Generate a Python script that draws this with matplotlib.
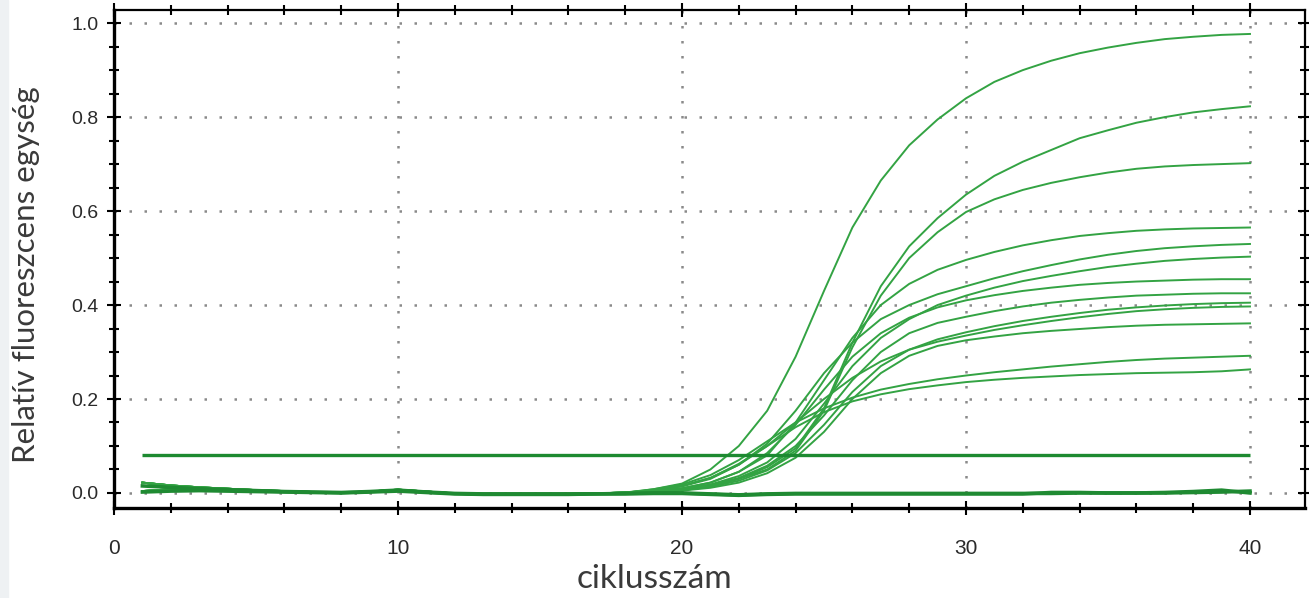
"""qPCR amplification plot: relative fluorescence vs. cycle number."""
import matplotlib
matplotlib.use("Agg")
import matplotlib.pyplot as plt
from matplotlib.patches import Rectangle
from matplotlib.ticker import MultipleLocator

cycles = list(range(1, 41))

# baseline noise for cycles 1..18 (two variants, shared by the samples)
early_hi = [0.022, 0.016, 0.012, 0.009, 0.006, 0.004, 0.002, 0.001, 0.003,
            0.007, 0.003, -0.001, -0.002, -0.002, -0.002, -0.002, -0.001, 0.001]
early_lo = [0.004, 0.008, 0.010, 0.008, 0.005, 0.003, 0.001, 0.000, 0.002,
            0.005, 0.002, -0.002, -0.003, -0.003, -0.003, -0.003, -0.002, 0.000]

# amplification part, cycles 19..40
late = {
    "A": [0.008, 0.02, 0.05, 0.10, 0.175, 0.29, 0.43, 0.565, 0.665, 0.74, 0.795,
          0.84, 0.875, 0.90, 0.92, 0.936, 0.948, 0.958, 0.966, 0.971, 0.975, 0.977],
    "B": [0.002, 0.006, 0.014, 0.03, 0.055, 0.095, 0.18, 0.32, 0.44, 0.525, 0.585,
          0.635, 0.675, 0.705, 0.73, 0.755, 0.772, 0.788, 0.80, 0.81, 0.817, 0.823],
    "C": [0.002, 0.006, 0.014, 0.03, 0.05, 0.09, 0.175, 0.31, 0.42, 0.50, 0.555,
          0.598, 0.625, 0.645, 0.66, 0.672, 0.682, 0.69, 0.695, 0.698, 0.70, 0.702],
    "D": [0.004, 0.01, 0.022, 0.045, 0.08, 0.15, 0.24, 0.33, 0.40, 0.445, 0.475,
          0.496, 0.513, 0.527, 0.538, 0.547, 0.553, 0.558, 0.561, 0.563, 0.564, 0.565],
    "E": [0.006, 0.014, 0.03, 0.06, 0.105, 0.175, 0.255, 0.32, 0.37, 0.40, 0.423,
          0.44, 0.457, 0.472, 0.485, 0.497, 0.507, 0.515, 0.521, 0.525, 0.528, 0.53],
    "F": [0.003, 0.008, 0.018, 0.036, 0.065, 0.115, 0.19, 0.27, 0.33, 0.37, 0.40,
          0.42, 0.437, 0.451, 0.462, 0.472, 0.481, 0.488, 0.494, 0.498, 0.501, 0.503],
    "G": [0.004, 0.01, 0.022, 0.045, 0.085, 0.145, 0.22, 0.29, 0.34, 0.373, 0.395,
          0.41, 0.421, 0.43, 0.437, 0.443, 0.447, 0.45, 0.452, 0.454, 0.455, 0.455],
    "H": [0.003, 0.008, 0.017, 0.032, 0.058, 0.10, 0.165, 0.24, 0.30, 0.34, 0.362,
          0.375, 0.387, 0.397, 0.405, 0.411, 0.416, 0.42, 0.422, 0.424, 0.425, 0.425],
    "I": [0.002, 0.006, 0.013, 0.026, 0.048, 0.085, 0.145, 0.215, 0.27, 0.305, 0.327,
          0.342, 0.355, 0.366, 0.375, 0.383, 0.39, 0.395, 0.399, 0.402, 0.404, 0.405],
    "J": [0.006, 0.015, 0.032, 0.06, 0.10, 0.15, 0.20, 0.245, 0.28, 0.305, 0.322,
          0.335, 0.347, 0.357, 0.366, 0.374, 0.381, 0.387, 0.391, 0.394, 0.396, 0.397],
    "K": [0.002, 0.005, 0.011, 0.022, 0.042, 0.075, 0.13, 0.20, 0.255, 0.292, 0.313,
          0.325, 0.333, 0.34, 0.345, 0.349, 0.353, 0.356, 0.358, 0.359, 0.36, 0.361],
    "L": [0.008, 0.018, 0.038, 0.07, 0.11, 0.15, 0.18, 0.203, 0.22, 0.232, 0.242,
          0.25, 0.257, 0.263, 0.269, 0.274, 0.279, 0.283, 0.286, 0.288, 0.29, 0.292],
    "M": [0.006, 0.015, 0.032, 0.062, 0.10, 0.14, 0.172, 0.195, 0.21, 0.221, 0.229,
          0.236, 0.241, 0.245, 0.248, 0.251, 0.253, 0.255, 0.256, 0.257, 0.259, 0.263],
}
early_of = {"A": early_hi, "B": early_lo, "C": early_hi, "D": early_lo,
            "E": early_hi, "F": early_lo, "G": early_hi, "H": early_lo,
            "I": early_hi, "J": early_lo, "K": early_hi, "L": early_lo, "M": early_hi}

# negative controls, cycles 1..40
neg_1 = [0.015, 0.012, 0.009, 0.007, 0.005, 0.003, 0.002, 0.001, 0.003, 0.006,
         0.002, -0.001, -0.002, -0.002, -0.002, -0.002, -0.002, -0.001, 0.000, 0.000,
         -0.002, -0.004, -0.002, -0.001, -0.001, -0.001, -0.001, -0.001, -0.001, -0.001,
         -0.001, -0.001, -0.001, 0.000, 0.000, 0.000, 0.000, 0.001, 0.002, 0.004]
neg_2 = [0.002, 0.004, 0.005, 0.004, 0.003, 0.002, 0.001, 0.000, 0.002, 0.004,
         0.001, -0.002, -0.003, -0.003, -0.003, -0.003, -0.002, -0.002, -0.001, -0.001,
         -0.003, -0.005, -0.003, -0.002, -0.002, -0.002, -0.002, -0.002, -0.002, -0.002,
         -0.002, -0.002, 0.001, 0.001, 0.000, 0.000, 0.001, 0.003, 0.006, 0.000]

threshold = 0.08

fig = plt.figure(figsize=(13.09, 5.98), dpi=100)
fig.patches.append(Rectangle((0, 0), 8 / 1309, 1, transform=fig.transFigure,
                             color="#eef1f3", zorder=0))
ax = fig.add_axes([0.0871, 0.1505, 0.9099, 0.8328])

for key, vals in late.items():
    ax.plot(cycles, early_of[key] + vals, color="#33a343", lw=1.4, zorder=3)
ax.plot(cycles, neg_1, color="#1f8a32", lw=2.6, zorder=3)
ax.plot(cycles, neg_2, color="#1f8a32", lw=2.6, zorder=3)
ax.hlines(threshold, cycles[0], cycles[-1], color="#1d8a31", lw=2.4, zorder=3)

ax.set_xlim(0, 41.94)
ax.set_ylim(-0.032, 1.028)
ax.xaxis.set_major_locator(MultipleLocator(10))
ax.xaxis.set_minor_locator(MultipleLocator(2))
ax.yaxis.set_major_locator(MultipleLocator(0.2))
ax.yaxis.set_minor_locator(MultipleLocator(0.05))
ax.yaxis.set_major_formatter(lambda v, pos: f"{v:.1f}")

ax.grid(True, which="major", color="#8a8a8a", linestyle=(0, (1, 5)), lw=1.8)
ax.tick_params(which="both", direction="inout", top=True, right=True,
               labelsize=14, labelcolor="#2a2a2a", width=1.5)
ax.tick_params(which="major", length=10)
ax.tick_params(which="minor", length=7)
ax.tick_params(axis="x", which="major", pad=17, labelsize=15)
ax.tick_params(axis="y", which="major", pad=6)
for lab in ax.get_xticklabels() + ax.get_yticklabels():
    lab.set_family(["Liberation Sans", "DejaVu Sans"])

for side in ("left", "bottom"):
    ax.spines[side].set_linewidth(2.4)
for side in ("top", "right"):
    ax.spines[side].set_linewidth(1.6)

ax.set_xlabel("ciklusszám", fontsize=24, family=["Lato", "DejaVu Sans"],
              color="#3a3a3a")
ax.set_ylabel("Relatív fluoreszcens egység", fontsize=22.5,
              family=["Lato", "DejaVu Sans"], color="#3a3a3a")
ax.xaxis.set_label_coords(0.454, -0.112)
ax.yaxis.set_label_coords(-0.062, 0.468)

fig.savefig("out.png", dpi=100)
